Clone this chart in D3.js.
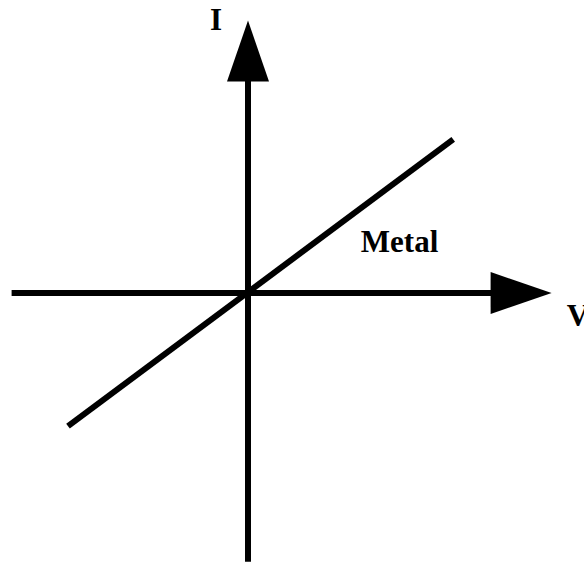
<!DOCTYPE html>
<html>
<head>
<meta charset="utf-8">
<script src="https://cdn.jsdelivr.net/npm/d3@7"></script>
<style>
  body { margin: 0; background: #fff; }
  text { font-family: "Liberation Serif", "Times New Roman", serif; font-weight: bold; }
</style>
</head>
<body>
<div id="chart"></div>
<script>
const width = 584;
const height = 562;

// axis extents in V / I units (origin at the crossing)
const vAxis = [-0.985, 1.265];
const iAxis = [-1.12, 1.135];

// the ohmic (metal) I-V line
const metalLine = [
  { v: -0.75, i: -0.555 },
  { v: 0.855, i: 0.64 }
];

const labels = [
  { text: "I", v: -0.133, i: 1.096, anchor: "middle" },
  { text: "Metal", v: 0.47, i: 0.17, anchor: "start" },
  { text: "V", v: 1.328, i: -0.1375, anchor: "start" }
];

const x = d3.scaleLinear().domain([-1, 1]).range([8, 488]);
const y = d3.scaleLinear().domain([-1, 1]).range([533, 53]);

const svg = d3.select("#chart")
  .append("svg")
  .attr("width", width)
  .attr("height", height);

const headLen = 61;
const headHalf = 21;

// horizontal (V) axis with arrowhead
svg.append("line")
  .attr("x1", x(vAxis[0])).attr("y1", y(0))
  .attr("x2", x(vAxis[1]) - headLen + 1).attr("y2", y(0))
  .attr("stroke", "#000").attr("stroke-width", 6);

svg.append("path")
  .attr("d", () => {
    const tx = x(vAxis[1]), ty = y(0);
    return `M${tx},${ty} L${tx - headLen},${ty - headHalf} L${tx - headLen},${ty + headHalf} Z`;
  })
  .attr("fill", "#000");

// vertical (I) axis with arrowhead
svg.append("line")
  .attr("x1", x(0)).attr("y1", y(iAxis[0]))
  .attr("x2", x(0)).attr("y2", y(iAxis[1]) + headLen - 1)
  .attr("stroke", "#000").attr("stroke-width", 6);

svg.append("path")
  .attr("d", () => {
    const tx = x(0), ty = y(iAxis[1]);
    return `M${tx},${ty} L${tx - headHalf},${ty + headLen} L${tx + headHalf},${ty + headLen} Z`;
  })
  .attr("fill", "#000");

// metal line
svg.append("path")
  .datum(metalLine)
  .attr("d", d3.line().x(d => x(d.v)).y(d => y(d.i)))
  .attr("fill", "none")
  .attr("stroke", "#000")
  .attr("stroke-width", 6);

svg.selectAll(".lbl")
  .data(labels)
  .join("text")
    .attr("class", "lbl")
    .attr("x", d => x(d.v))
    .attr("y", d => y(d.i))
    .attr("text-anchor", d => d.anchor)
    .attr("font-size", 31)
    .text(d => d.text);
</script>
</body>
</html>
